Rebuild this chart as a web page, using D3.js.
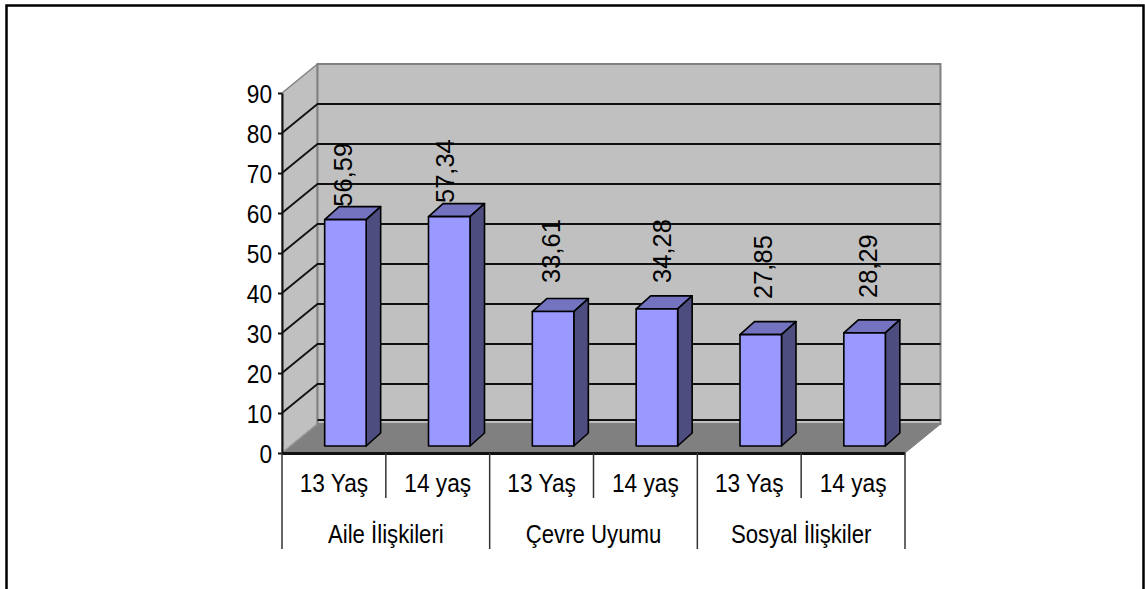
<!DOCTYPE html>
<html><head><meta charset="utf-8">
<script src="https://cdn.jsdelivr.net/npm/d3@7"></script>
<style>html,body{margin:0;padding:0;background:#fff;overflow:hidden}svg{display:block}text{font-family:"Liberation Sans",Arial,sans-serif;fill:#000}</style>
</head><body><svg id="c" width="1145" height="589"></svg>
<script>
const groups = ["Aile İlişkileri","Çevre Uyumu","Sosyal İlişkiler"];
const ages = ["13 Yaş","14 yaş","13 Yaş","14 yaş","13 Yaş","14 yaş"];
const values = [56.59,57.34,33.61,34.28,27.85,28.29];
const valueLabels = ["56,59","57,34","33,61","34,28","27,85","28,29"];
const yTicks = d3.range(0,100,10);
// hand placement of the rotated value labels, relative to each bar
const labelShiftX = [6.6,4.8,7,14.2,11.4,12.6];
const labelGapY = [0,0.6,15.6,13,22.6,21.8];

const svg = d3.select("#c");
const x = d3.scaleBand().domain(d3.range(6)).range([282,905]);
const y = d3.scaleLinear().domain([0,90]).range([453,93]);
const dx = 35.5, dy = -29;
const barW = 41.5, barDx = 14.5, barDy = -13, barShiftX = 11.5, barShiftY = -7;
const FONT = 25.5, SX = 0.89, SXG = 0.87;

svg.append("path").attr("d","M6.5,589V5.5H1143.5V589").attr("fill","none").attr("stroke","#000").attr("stroke-width",2.5);

const x0=x.range()[0], x1=x.range()[1];
const pts = a=>a.map(p=>p.join(",")).join(" ");
svg.append("polygon").attr("points",pts([[x0,y(0)],[x0+dx,y(0)+dy],[x0+dx,y(90)+dy],[x0,y(90)]])).attr("fill","#c0c0c0").attr("stroke","#808080").attr("stroke-width",1.5);
svg.append("rect").attr("x",x0+dx).attr("y",y(90)+dy).attr("width",x1-x0).attr("height",y(0)-y(90)).attr("fill","#c0c0c0").attr("stroke","#808080").attr("stroke-width",2);
yTicks.filter(t=>t>0&&t<90).forEach(t=>{
  svg.append("path").attr("fill","none").attr("stroke","#111").attr("stroke-width",1.8)
   .attr("d",`M${x0},${y(t)}L${x0+dx},${y(t)+dy}H${x1+dx}`);
});
// zero gridline on the back wall, just above the floor
svg.append("path").attr("fill","none").attr("stroke","#111").attr("stroke-width",1.8)
   .attr("d",`M${x0+dx},${y(0)+dy-4}H${x1+dx}`);
svg.append("polygon").attr("points",pts([[x0,y(0)],[x0+dx,y(0)+dy],[x1+dx,y(0)+dy],[x1,y(0)]])).attr("fill","#808080").attr("stroke","#808080");
svg.append("path").attr("d",`M${x0},${y(0)}L${x0+dx},${y(0)+dy}`).attr("stroke","#a0a0a0").attr("stroke-width",1);

const fx = (d,i)=>x(i)+x.bandwidth()/2+barShiftX-barW/2;
const base = y(0)+barShiftY;
const tops = d=>base-(y(0)-y(d));

svg.append("g").selectAll("text").data(values).join("text")
  .attr("transform",(d,i)=>`translate(${fx(d,i)+barW/2+labelShiftX[i]},${tops(d)+barDy-labelGapY[i]}) rotate(-90)`)
  .attr("font-size",FONT).text((d,i)=>valueLabels[i]);

svg.append("g").selectAll("g").data(values).join("g").each(function(d,i){
  const g=d3.select(this), l=fx(d,i), r=l+barW, t=tops(d), b=base;
  const add=(p,f)=>g.append("polygon").attr("points",pts(p)).attr("fill",f).attr("stroke","#000").attr("stroke-width",1.6).attr("stroke-linejoin","round");
  add([[l,t],[r,t],[r+barDx,t+barDy],[l+barDx,t+barDy]],"#7373bf");
  add([[r,t],[r+barDx,t+barDy],[r+barDx,b+barDy],[r,b]],"#4d4d80");
  add([[l,t],[r,t],[r,b],[l,b]],"#9999ff");
});

const ax = svg.append("g").attr("transform",`translate(${x0},0)`)
  .call(d3.axisLeft(y).tickValues(yTicks).tickSize(4).tickSizeOuter(0));
ax.attr("font-family",null).attr("font-size",null);
ax.select(".domain").attr("stroke","#111").attr("stroke-width",2);
ax.selectAll(".tick line").attr("stroke","#111").attr("stroke-width",2);
ax.selectAll(".tick text").attr("font-size",FONT).attr("text-anchor","end").attr("dy",null).attr("x",null)
  .attr("transform",`translate(-10,9) scale(${SX},1)`);

svg.append("path").attr("d",`M${x0},${y(0)+0.5}H${x1}`).attr("stroke","#111").attr("stroke-width",3);
const axisG = svg.append("g");
const lowerY=498, upperY=549;
x.domain().concat([6]).forEach(i=>{
  const X = i==6?x1:x(i);
  axisG.append("line").attr("x1",X).attr("x2",X).attr("y1",y(0)).attr("y2",i%2==0?upperY:lowerY).attr("stroke","#333").attr("stroke-width",1.5);
});
axisG.selectAll("text.age").data(ages).join("text").attr("class","age")
  .attr("text-anchor","middle").attr("font-size",FONT)
  .attr("transform",(d,i)=>`translate(${x(i)+x.bandwidth()/2},492) scale(${SX},1)`).text(d=>d);
axisG.selectAll("text.grp").data(groups).join("text").attr("class","grp")
  .attr("text-anchor","middle").attr("font-size",FONT)
  .attr("transform",(d,i)=>`translate(${x(i*2)+x.bandwidth()},543) scale(${SXG},1)`).text(d=>d);
</script></body></html>
